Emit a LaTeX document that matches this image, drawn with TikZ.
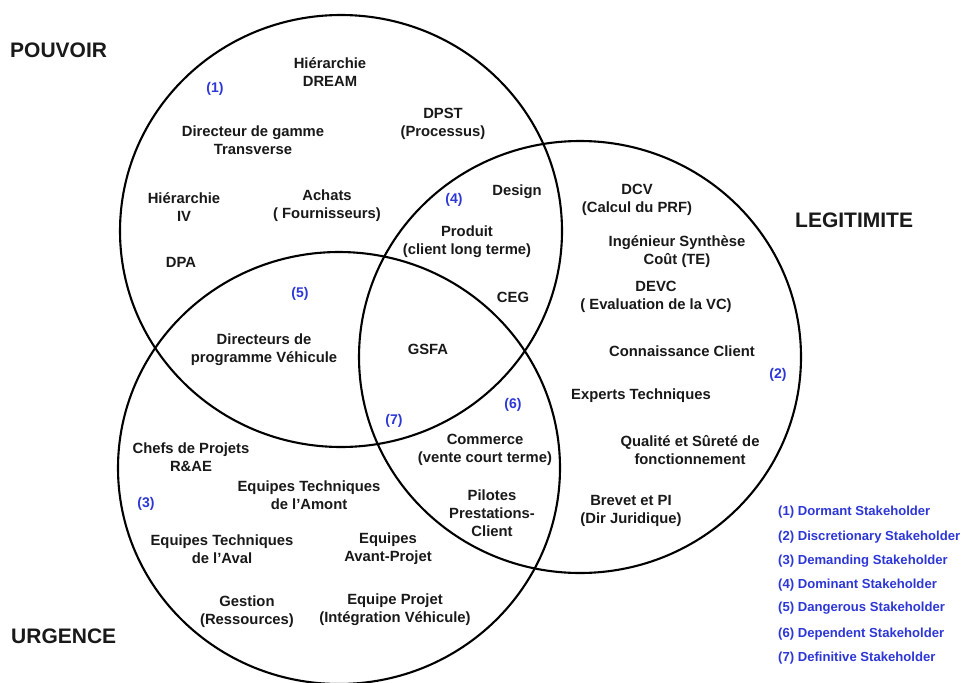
\documentclass[tikz,border=0pt]{standalone}
\usepackage{fontspec}
\setmainfont{Liberation Sans}
\definecolor{txt}{RGB}{25,25,25}
\definecolor{lblue}{RGB}{45,55,215}
\begin{document}
\begin{tikzpicture}[x=1pt,y=-1pt,
 lbl/.style={font=\fontsize{14.8}{18}\selectfont\bfseries, text=txt, align=center, inner sep=0pt},
 num/.style={font=\fontsize{14}{16}\selectfont\bfseries, text=lblue, inner sep=0pt},
 big/.style={font=\fontsize{21}{24}\selectfont\bfseries, text=txt, inner sep=0pt, anchor=west},
 leg/.style={font=\fontsize{13.1}{15}\selectfont\bfseries, text=lblue, inner sep=0pt, anchor=west},
 ring/.style={draw=black, line width=2.1pt}]
\useasboundingbox (0,0) rectangle (965,682);
\fill[white] (0,0) rectangle (965,682);
% circles
\draw[ring] (341,231) ellipse [x radius=221pt, y radius=216pt];
\draw[ring] (580,357) ellipse [x radius=221pt, y radius=216pt];
\draw[ring] (339,468) ellipse [x radius=221pt, y radius=216pt];
% titles
\node[big] (pouvoir) at (10,50) {POUVOIR};
\node[big] (legit) at (795,220) {LEGITIMITE};
\node[big] (urgence) at (11,636) {URGENCE};
% region numbers
\node[num] (n1) at (215,89) {(1)};
\node[num] (n2) at (778,375) {(2)};
\node[num] (n3) at (146,504) {(3)};
\node[num] (n4) at (454,200) {(4)};
\node[num] (n5) at (300,294) {(5)};
\node[num] (n6) at (513,405) {(6)};
\node[num] (n7) at (394,421) {(7)};
% pouvoir only
\node[lbl] (dream) at (330,72) {Hiérarchie\\DREAM};
\node[lbl] (dgt) at (253,140) {Directeur de gamme\\Transverse};
\node[lbl] (dpst) at (443,124) {DPST\\(Processus)};
\node[lbl] (hiv) at (184,207) {Hiérarchie\\IV};
\node[lbl] (achats) at (327,206) {Achats\\( Fournisseurs)};
\node[lbl] (dpa) at (181,262) {DPA};
% pouvoir & legitimite
\node[lbl] (design) at (517,192) {Design};
\node[lbl] (produit) at (467,242) {Produit\\(client long terme)};
\node[lbl] (ceg) at (513,297) {CEG};
% pouvoir & urgence
\node[lbl] (dpv) at (264,350) {Directeurs de\\programme Véhicule};
% all three
\node[lbl] (gsfa) at (428,349) {GSFA};
% legitimite & urgence
\node[lbl] (commerce) at (485,450) {Commerce\\(vente court terme)};
\node[lbl] (pilotes) at (492,513) {Pilotes\\Prestations-\\Client};
% legitimite only
\node[lbl] (dcv) at (637,200) {DCV\\(Calcul du PRF)};
\node[lbl] (ist) at (677,252) {Ingénieur Synthèse\\Coût (TE)};
\node[lbl] (devc) at (656,297) {DEVC\\( Evaluation de la VC)};
\node[lbl] (cc) at (682,351) {Connaissance Client};
\node[lbl] (et) at (641,396) {Experts Techniques};
\node[lbl] (qs) at (690,450) {Qualité et Sûreté de\\fonctionnement};
\node[lbl] (brevet) at (631,511) {Brevet et PI\\(Dir Juridique)};
% urgence only
\node[lbl] (chefs) at (191,457) {Chefs de Projets\\R\&AE};
\node[lbl] (eta) at (309,495) {Equipes Techniques\\de l’Amont};
\node[lbl] (etav) at (222,549) {Equipes Techniques\\de l’Aval};
\node[lbl] (eap) at (388,549) {Equipes\\Avant-Projet};
\node[lbl] (gestion) at (247,612) {Gestion\\(Ressources)};
\node[lbl] (ep) at (395,610) {Equipe Projet\\(Intégration Véhicule)};
% legend
\node[leg] (l1) at (778,512) {(1) Dormant Stakeholder};
\node[leg] (l2) at (778,537) {(2) Discretionary Stakeholder};
\node[leg] (l3) at (778,561) {(3) Demanding Stakeholder};
\node[leg] (l4) at (778,585) {(4) Dominant Stakeholder};
\node[leg] (l5) at (778,608) {(5) Dangerous Stakeholder};
\node[leg] (l6) at (778,634) {(6) Dependent Stakeholder};
\node[leg] (l7) at (778,658) {(7) Definitive Stakeholder};
\end{tikzpicture}
\end{document}
